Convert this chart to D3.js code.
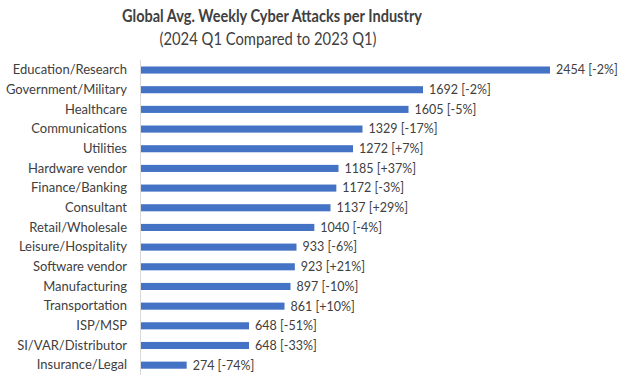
<!DOCTYPE html>
<html><head><meta charset="utf-8">
<script src="https://cdn.jsdelivr.net/npm/d3@7"></script>
<style>body{margin:0;background:#fff}</style>
</head><body>
<svg id="c" width="627" height="382"></svg>
<script>
const categories = ["Education/Research","Government/Military","Healthcare","Communications","Utilities","Hardware vendor","Finance/Banking","Consultant","Retail/Wholesale","Leisure/Hospitality","Software vendor","Manufacturing","Transportation","ISP/MSP","SI/VAR/Distributor","Insurance/Legal"];
const values = [2454,1692,1605,1329,1272,1185,1172,1137,1040,933,923,897,861,648,648,274];
const changes = ["-2%","-2%","-5%","-17%","+7%","+37%","-3%","+29%","-4%","-6%","+21%","-10%","+10%","-51%","-33%","-74%"];
const title = "Global Avg. Weekly Cyber Attacks per Industry";
const subtitle = "(2024 Q1 Compared to 2023 Q1)";

const svg = d3.select("#c");
const font = "Lato, 'Open Sans', sans-serif";
const x = d3.scaleLinear().domain([0, 2454]).range([141, 550]);
const y = d3.scaleBand().domain(categories).range([60.2, 375]).paddingInner(0.64).paddingOuter(0.32);

svg.append("text").attr("x", 272).attr("y", 22).attr("text-anchor","middle")
  .attr("textLength", 300).attr("lengthAdjust","spacingAndGlyphs")
  .style("font-family", font).style("font-weight","bold").style("font-size","16.5px").attr("fill","#404040").text(title);
svg.append("text").attr("x", 268).attr("y", 45).attr("text-anchor","middle")
  .attr("textLength", 217).attr("lengthAdjust","spacingAndGlyphs")
  .style("font-family", font).style("font-size","16.5px").attr("fill","#404040").text(subtitle);

svg.append("line").attr("x1",140.5).attr("x2",140.5).attr("y1",60).attr("y2",375).attr("stroke","#d9d9d9").attr("stroke-width",1);

const data = categories.map((c,i)=>({c, v:values[i], ch:changes[i]}));
svg.selectAll("rect.bar").data(data).join("rect").attr("class","bar")
  .attr("x", x(0)).attr("y", d=>y(d.c)).attr("width", d=>x(d.v)-x(0)).attr("height", y.bandwidth())
  .attr("fill","#4472c4");

const yAxis = d3.axisLeft(y).tickSize(0).tickPadding(13);
const g = svg.append("g").attr("transform","translate(140,0)").call(yAxis);
g.select(".domain").remove();
g.selectAll("text").style("font-family",font).style("font-size","13px").attr("fill","#404040");

svg.selectAll("text.val").data(data).join("text").attr("class","val")
  .attr("x", d=>x(d.v)+6).attr("y", d=>y(d.c)+y.bandwidth()/2).attr("dy","0.35em")
  .style("font-family",font).style("font-size","12.5px").attr("fill","#404040")
  .text(d=>`${d.v} [${d.ch}]`);
</script>
</body></html>
